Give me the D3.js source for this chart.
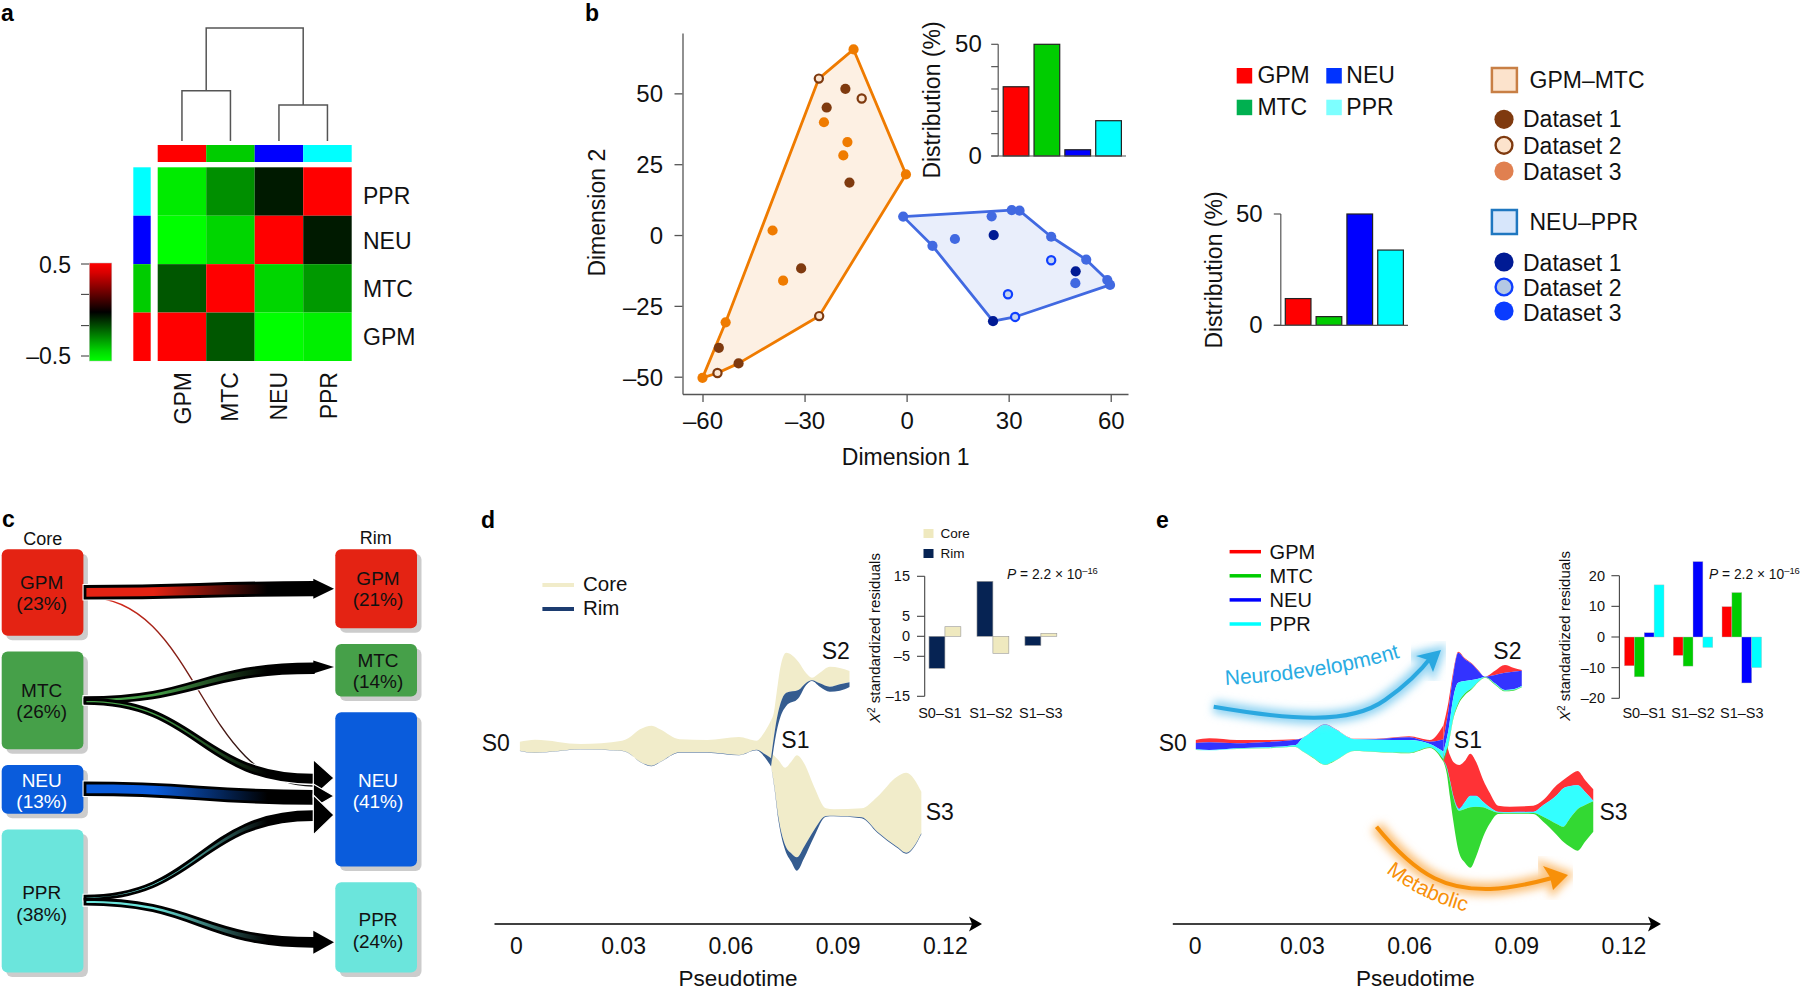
<!DOCTYPE html>
<html><head><meta charset="utf-8">
<script src="https://cdnjs.cloudflare.com/ajax/libs/d3/7.8.5/d3.min.js"></script>
<style>html,body{margin:0;padding:0;background:#fff}svg{display:block}text{font-family:"Liberation Sans",Arial,sans-serif;fill:#111}</style>
</head><body>
<script>
// ---------- categories ----------
const subtypes = ["GPM","MTC","NEU","PPR"];
const rowOrder = ["PPR","NEU","MTC","GPM"];
// ---------- panel a ----------
const corrPPR = [-0.46,-0.28,-0.05,0.5];
const corrNEU = [-0.5,-0.42,0.5,-0.05];
const corrMTC = [-0.17,0.5,-0.42,-0.3];
const corrGPM = [0.5,-0.17,-0.5,-0.47];
const keyTicks = [0.5,0.17,-0.17,-0.5];
const dendroMerge = [0.445,0.319,1];
// ---------- panel b ----------
const hullOrangeX = [-15.6,-25.8,-53.2,-60,-55.6,-49.4,-25.7,-0.2];
const hullOrangeY = [65.5,55.2,-30.8,-50.4,-48.7,-45.3,-28.6,21.4];
const hullBlueX = [-1,30.9,33.2,42.5,52.8,59,59.8,31.9,25.4,7.6];
const hullBlueY = [6.5,8.8,8.6,-0.6,-8.7,-15.9,-17.6,-28.9,-30.4,-3.8];
const orangeD1X = [-18,-23.5,-16.8,-31,-55.2,-49.4];
const orangeD1Y = [51.6,45,18.5,-11.8,-39.8,-45.3];
const orangeD2X = [-25.8,-13.2,-25.7,-55.6];
const orangeD2Y = [55.2,48.2,-28.6,-48.7];
const orangeD3X = [-15.6,-24.3,-17.4,-18.6,-39.4,-36.3,-53.2,-60,-0.2];
const orangeD3Y = [65.5,39.8,32.8,28.1,1.6,-16.1,-30.8,-50.4,21.4];
const blueD1X = [25.6,49.7,25.4];
const blueD1Y = [0,-12.8,-30.4];
const blueD2X = [42.5,29.8,31.9];
const blueD2Y = [-8.9,-20.9,-28.9];
const blueD3X = [-1,7.6,14.2,25,30.9,33.2,42.5,52.8,59,59.8,49.6];
const blueD3Y = [6.5,-3.8,-1.4,6.6,8.8,8.6,-0.6,-8.7,-15.9,-17.6,-17];
const distOrange = [31,50,2.8,15.8];
const distBlue = [12,3.9,50,33.8];
// ---------- panel c ----------
const corePct = [23,26,13,38];
const rimPct = [21,14,41,24];
const flowFrom = ["GPM","MTC","MTC","NEU","PPR","PPR"];
const flowTo = ["GPM","MTC","NEU","NEU","NEU","PPR"];
const flowStart = [3.1,1.3,1.1,3.1,0.8,1.3];
const flowEnd = [3.3,2.3,1.9,3.2,2.1,2.1];
const strayFlowPct = 0.25; // GPM to NEU
// ---------- panel d (pseudotime in 10^-3, stream height in arbitrary units) ----------
const dTrunkT = [1,5.3,18,29.6,31.3,34.6,37.9,40.2,45.7,53.4,62.3,67.2,69.5,71.3];
const dTrunkCore = [3.3,5.3,1,4.3,6.7,15.7,19.3,15.7,5.7,5,8,4.3,13.3,25];
const dTrunkRim = [-5.7,-7.7,-4.3,-5.7,-7.7,-16.7,-20.7,-17,-7.3,-7.3,-10,-4.7,-9,-13.3];
const dTrunkEnd = [-6,-8,-4.6,-6,-8,-17,-21.3,-17.3,-7.7,-7.7,-10.3,-5.3,-12.3,-21.7];
const dS2T = [71.3,72,72.8,73.9,75.5,78.9,81.1,82.7,84.9,87.7,90.5,93.2];
const dS2Core = [25,31.7,51.7,78.3,92.3,83.3,71.7,67.3,72.3,78.3,77,74];
const dS2Rim = [-11.7,6.7,25,41.7,52.3,55,62.3,64.7,61.7,58.3,60.7,62.7];
const dS2End = [-21.7,-3.3,13.3,28.3,39,46.7,60,64,58.3,53.3,54.3,58];
const dS3T = [71.3,72.2,73.3,75.2,76.9,78.5,80.5,83.3,86.6,88.8,96.6,101,106.5,109.1,113.3];
const dS3Core = [-8.3,-11,-15,-22.7,-16.7,-10.3,-18.3,-41.7,-63.3,-64.3,-63.3,-51.7,-31.7,-27.7,-46.7];
const dS3Rim = [-21.7,-41.7,-71.7,-100,-108.3,-112.3,-101.7,-85,-71,-70.7,-72.3,-86.7,-101.7,-107.7,-88.3];
const dS3End = [-21.7,-43.3,-75,-105,-116.7,-125.7,-113.3,-91.7,-71.7,-71.3,-73.3,-87.7,-102.7,-108.7,-89.3];
const residualCats = ["S0–S1","S1–S2","S1–S3"];
const dResidualRim = [-8,13.75,-2.3];
const dResidualCore = [2.4,-4.25,0.75];
const dResidualTicks = [15,5,0,-5,-15];
// ---------- panel e ----------
const eTrunkT = [0.2,4,11.7,19.9,28.1,29.9,32.9,36.4,38.7,44.6,50.5,59.9,65.7,69.5];
const eTrunkGPM = [5,6.7,5,5,5.7,7,14,21,17.3,6.3,6.3,8.7,5,20];
const eTrunkNEU = [2,2.7,1.7,3,5.3,6.7,13.7,20.7,17,6,6,7.7,3.3,5.7];
const eTrunkPPR = [-4.3,-5,-3.3,-2.3,0,6.3,13.3,20.3,16.7,5.7,5.3,5,1,-6.7];
const eTrunkMTC = [-4.7,-5.3,-3.7,-3,-1.7,-5.7,-12.3,-19.7,-16.3,-5.7,-6.7,-7.7,-2.3,-14.3];
const eTrunkEnd = [-5,-5.3,-4,-3.3,-2,-6,-12.7,-20,-16.7,-6,-7,-8.3,-3,-16.7];
const eS2T = [69.5,70.9,72.3,73.6,75.5,77.4,79.2,81.1,83.9,86.7,89,91.4];
const eS2GPM = [20,43.3,75,93.3,86.7,81.7,75,68.3,74.3,80,77.3,75];
const eS2NEU = [5.7,35,71.7,92.3,85.7,81,74.3,68.3,70,72.3,73.3,74.3];
const eS2PPR = [-6.7,15,48.3,62.3,64,65,66.3,68,61.7,55,55.7,59];
const eS2MTC = [-14.3,1.7,28.3,41.7,51.7,56.7,63.3,67.7,61,54.3,55,58.3];
const eS2End = [-16.7,0,26.7,40,50,55.7,62.7,67.3,60.3,53.7,54.3,57.7];
const eS3T = [69.5,70.4,71.3,72.2,73.9,75.5,77,78.6,80.6,82.5,84.8,88.1,94.6,97.4,101.2,103,104.9,107,109.1,111.4];
const eS3GPM = [-8.3,-1.7,-10,-16.7,-20,-15.7,-8.7,-16.7,-35,-48.3,-60.7,-61.7,-60.7,-55,-40,-35,-30,-26,-35,-44.3];
const eS3NEU = [-15.7,-21.7,-35,-50,-63.3,-56.7,-50.7,-50.7,-56.7,-62.3,-66.7,-67,-66.7,-60,-50,-43.3,-41,-40,-46.7,-55.7];
const eS3PPR = [-15.9,-22.7,-36,-51,-64,-57.2,-51,-51,-57,-62.6,-67,-67.3,-67,-60.2,-50.2,-43.5,-41.2,-40.2,-46.9,-55.9];
const eS3MTC = [-15.7,-23.3,-36.7,-51.7,-65.7,-64,-62.3,-61.7,-62.3,-65,-67.7,-68,-68,-71.7,-79,-81.7,-73.3,-64.3,-60,-56.3];
const eS3End = [-16.7,-28.3,-51.7,-75,-108.3,-117.7,-122.7,-111.7,-91.7,-78.3,-69,-68.7,-69,-76.7,-90,-96.7,-101.7,-105.7,-96.7,-86.7];
const eResidualGPM = [-9.4,-6,9.9];
const eResidualMTC = [-13,-9.5,14.5];
const eResidualNEU = [1.4,24.6,-15];
const eResidualPPR = [17,-3.4,-10];
const eResidualTicks = [20,10,0,-10,-20];
const pseudotimeTicks = [0,0.03,0.06,0.09,0.12];
const pseudotimeLabels = ["0","0.03","0.06","0.09","0.12"];

// ---------- set-up ----------
const svg = d3.select("body").append("svg").attr("width",1800).attr("height",991).attr("viewBox","0 0 1800 991");
svg.append("rect").attr("width",1800).attr("height",991).attr("fill","#fff");
const defs = svg.append("defs");
const hex = {GPM:"#ff0000",MTC:"#00cc00",NEU:"#0000ff",PPR:"#00ffff"};
function T(g,x,y,s,o={}){
  const t=g.append("text").attr("x",x).attr("y",y).attr("font-size",o.size||22).attr("text-anchor",o.anchor||"start").text(s);
  if(o.rotate!==undefined) t.attr("transform",`rotate(${o.rotate},${x},${y})`);
  if(o.fill) t.style("fill",o.fill);
  if(o.weight) t.attr("font-weight",o.weight);
  return t;
}
const fmtMinus = d=>String(d).replace("-","–");
[["a",1,21],["b",585,21],["c",2,527],["d",481,528],["e",1156,528]].forEach(d=>T(svg,d[1],d[2],d[0],{size:23,weight:"bold",fill:"#000"}));

// ---------- panel a ----------
(function(){
  const g=svg.append("g");
  const x=d3.scaleBand().domain(subtypes).range([157.7,351.7]);
  const y=d3.scaleBand().domain(rowOrder).range([167.3,361]);
  const col=d3.scaleLinear().domain([-0.5,0,0.5]).range(["#00ff00","#000000","#ff0000"]);
  const rows={PPR:corrPPR,NEU:corrNEU,MTC:corrMTC,GPM:corrGPM};
  rowOrder.forEach(r=>subtypes.forEach((c,i)=>g.append("rect").attr("x",x(c)).attr("y",y(r)).attr("width",x.bandwidth()).attr("height",y.bandwidth()).attr("fill",col(rows[r][i]))));
  subtypes.forEach(c=>g.append("rect").attr("x",x(c)).attr("y",145).attr("width",x.bandwidth()).attr("height",17).attr("fill",hex[c]));
  rowOrder.forEach(r=>g.append("rect").attr("x",133.3).attr("y",y(r)).attr("width",17.4).attr("height",y.bandwidth()).attr("fill",hex[r]));
  const rowNudge={PPR:12.5,NEU:9,MTC:8.5,GPM:8.5};
  rowOrder.forEach(r=>T(g,363,y(r)+y.bandwidth()/2+rowNudge[r],r,{size:23}));
  const colNudge={GPM:9,MTC:7.5,NEU:8.5,PPR:9.5};
  subtypes.forEach(c=>T(g,x(c)+x.bandwidth()/2+colNudge[c],372,c,{size:23,anchor:"end",rotate:-90}));
  // dendrogram
  const h=d3.scaleLinear().domain([0,1]).range([141,28]);
  const lx=c=>x(c)+x.bandwidth()/2;
  const den=g.append("g").attr("fill","none").attr("stroke","#555").attr("stroke-width",1.5);
  const lm=(lx("GPM")+lx("MTC"))/2, rm=(lx("NEU")+lx("PPR"))/2;
  den.append("path").attr("d",`M${lx("GPM")},${h(0)}V${h(dendroMerge[0])}H${lx("MTC")}V${h(0)}`);
  den.append("path").attr("d",`M${lx("NEU")},${h(0)}V${h(dendroMerge[1])}H${lx("PPR")}V${h(0)}`);
  den.append("path").attr("d",`M${lm},${h(dendroMerge[0])}V${h(dendroMerge[2])}H${rm}V${h(dendroMerge[1])}`);
  // colour key
  const ky=d3.scaleLinear().domain([-0.5,0.5]).range([356,264]);
  const grad=defs.append("linearGradient").attr("id","key").attr("x1",0).attr("x2",0).attr("y1",1).attr("y2",0);
  d3.range(0,1.001,0.1).forEach(p=>grad.append("stop").attr("offset",p).attr("stop-color",col(-0.53+p*1.06)));
  g.append("rect").attr("x",89.3).attr("y",263).attr("width",22.5).attr("height",98).attr("fill","url(#key)").attr("stroke","#bbb").attr("stroke-width",0.5);
  keyTicks.forEach(t=>g.append("line").attr("x1",81).attr("x2",89).attr("y1",ky(t)).attr("y2",ky(t)).attr("stroke","#333").attr("stroke-width",1));
  T(g,71,273,"0.5",{size:23,anchor:"end"});
  T(g,71,364,"–0.5",{size:23,anchor:"end"});
})();

// ---------- panel b ----------
(function(){
  const g=svg.append("g");
  const x=d3.scaleLinear().domain([-65.88,65.08]).range([682.5,1128]);
  const y=d3.scaleLinear().domain([-56.1,71.3]).range([394,33]);
  const line=d3.line().x(d=>x(d[0])).y(d=>y(d[1])).curve(d3.curveLinearClosed);
  const hull=(xs,ys,stroke,fill)=>g.append("path").attr("d",line(d3.zip(xs,ys))).attr("fill",fill).attr("stroke",stroke).attr("stroke-width",2.8).attr("stroke-linejoin","round");
  hull(hullOrangeX,hullOrangeY,"#ef7b00","#fdf0e3");
  hull(hullBlueX,hullBlueY,"#4169e1","#e9eefb");
  const dots=(xs,ys,fill,stroke)=>d3.zip(xs,ys).forEach(d=>{
    const c=g.append("circle").attr("cx",x(d[0])).attr("cy",y(d[1]));
    if(stroke) c.attr("r",4.1).attr("fill",fill).attr("stroke",stroke).attr("stroke-width",2.2);
    else c.attr("r",5.1).attr("fill",fill);
  });
  dots(orangeD3X,orangeD3Y,"#ef7b00");
  dots(orangeD1X,orangeD1Y,"#7f3a0f");
  dots(orangeD2X,orangeD2Y,"#fbe6d2","#7f3a0f");
  dots(blueD3X,blueD3Y,"#4169e1");
  dots(blueD1X,blueD1Y,"#001a94");
  dots(blueD2X,blueD2Y,"#c5d3ee","#0f3fff");
  const ax=g.append("g").attr("transform","translate(0,394)").call(d3.axisBottom(x).tickValues([-60,-30,0,30,60]).tickSize(8).tickSizeOuter(0).tickFormat(fmtMinus));
  const ay=g.append("g").attr("transform","translate(682.5,0)").call(d3.axisLeft(y).tickValues([-50,-25,0,25,50]).tickSize(8).tickSizeOuter(0).tickFormat(fmtMinus));
  [ax,ay].forEach(a=>{a.selectAll("path,line").attr("stroke","#555").attr("stroke-width",1.3);a.selectAll("text").attr("font-size",24);a.attr("font-family",null).attr("font-size",null)});
  ax.selectAll("text").attr("dy",null).attr("y",35);
  ay.selectAll("text").attr("dy","0.36em").attr("x",-19.5);
  T(g,905.7,464.7,"Dimension 1",{size:23,anchor:"middle"});
  T(g,605,212.7,"Dimension 2",{size:23,anchor:"middle",rotate:-90});
  const bars=(vals,range,top,base,axX,axEnd,tickList,labelX,titleX,titleY)=>{
    const bx=d3.scaleBand().domain(subtypes).range(range).paddingInner(0.167);
    const by=d3.scaleLinear().domain([0,50]).range([base,top]);
    subtypes.forEach((c,i)=>g.append("rect").attr("x",bx(c)).attr("y",by(vals[i])).attr("width",bx.bandwidth()).attr("height",base-by(vals[i])).attr("fill",hex[c]).attr("stroke","#222").attr("stroke-width",1.2));
    g.append("line").attr("x1",axX).attr("x2",axX).attr("y1",top).attr("y2",base).attr("stroke","#555").attr("stroke-width",1.2);
    g.append("line").attr("x1",axX-7).attr("x2",axEnd).attr("y1",base).attr("y2",base).attr("stroke","#555").attr("stroke-width",1.2);
    tickList.forEach(t=>g.append("line").attr("x1",axX-7).attr("x2",axX).attr("y1",by(t)).attr("y2",by(t)).attr("stroke","#555").attr("stroke-width",1.2));
    T(g,labelX,top+8,"50",{size:24,anchor:"end"});
    T(g,labelX,base+8,"0",{size:24,anchor:"end"});
    T(g,titleX,titleY,"Distribution (%)",{size:23,anchor:"middle",rotate:-90});
  };
  bars(distOrange,[1003.2,1121.4],44.3,156,998.2,1126,[0,10,20,30,40,50],981.8,940,100);
  bars(distBlue,[1285.3,1403.4],214,325.3,1280.8,1408,[0,50],1262.6,1222,270);
  // category legend
  const lc={GPM:"#ff0000",MTC:"#00b050",NEU:"#0033ff",PPR:"#7dffff"};
  [["GPM",1236.7,68],["MTC",1236.7,99.7],["NEU",1326.3,68],["PPR",1326.3,99.7]].forEach(d=>{
    g.append("rect").attr("x",d[1]).attr("y",d[2]).attr("width",15.5).attr("height",15.5).attr("fill",lc[d[0]]);
    T(g,d[1]+(d[1]<1300?20.7:20),d[2]+15,d[0],{size:23});
  });
  // dataset legends
  const L=(sy,name,stroke,fill,c1,ring,c3,cy,by2)=>{
    g.append("rect").attr("x",1491.9).attr("y",sy+1).attr("width",25).attr("height",24).attr("fill",fill).attr("stroke",stroke).attr("stroke-width",2.5);
    T(g,1529.5,sy+21,name,{size:23});
    [[c1],[ring],[c3]].forEach((d,i)=>{
      const c=g.append("circle").attr("cx",1504).attr("cy",cy[i]);
      if(i===1) c.attr("r",8.4).attr("fill",d[0]).attr("stroke",c1==="#7f3a0f"?"#7f3a0f":"#0f3fff").attr("stroke-width",2.4);
      else c.attr("r",9.6).attr("fill",d[0]);
      T(g,1523,by2[i],"Dataset "+(i+1),{size:23});
    });
  };
  L(67,"GPM–MTC","#c87f45","#fce3cc","#7f3a0f","#fce3cc","#e08050",[119.3,145.3,171],[127.3,153.5,179.8]);
  L(209,"NEU–PPR","#1f77c0","#d7e6fb","#001a94","#b4c8e4","#0a3cff",[262,287,311],[270.5,296,321]);
})();

// ---------- panel c ----------
(function(){
  const g=svg.append("g");
  const pct=d3.scaleLinear().domain([0,100]).range([0,376]);
  const gap=15.7, top=549.3;
  const colors={GPM:"#e42313",MTC:"#46a049",NEU:"#0a5cdc",PPR:"#6be5dc"};
  const layout=(vals,x,lab,up,down,nudge)=>{
    let y=top;
    subtypes.forEach((c,i)=>{
      const h=pct(vals[i]);
      g.append("rect").attr("x",x+4.5).attr("y",y+4.5).attr("width",81.7).attr("height",h).attr("rx",6).attr("fill","#cccccc");
      g.append("rect").attr("x",x).attr("y",y).attr("width",81.7).attr("height",h).attr("rx",6).attr("fill",colors[c]);
      const white=c==="NEU", mid=y+h/2+nudge[i];
      T(g,x+lab,mid-up,c,{size:19,anchor:"middle",fill:white?"#fff":"#111"});
      T(g,x+lab,mid+down,`(${vals[i]}%)`,{size:19,anchor:"middle",fill:white?"#fff":"#111"});
      y+=h+gap;
    });
  };
  layout(corePct,1.7,40,4,17.5,[0,0.5,1.5,2.5]);
  layout(rimPct,335.3,42.7,3.5,18,[-0.5,0,0.8,2.3]);
  T(g,42.7,545,"Core",{size:18,anchor:"middle"});
  T(g,375.7,544,"Rim",{size:18,anchor:"middle"});
  const xs=85,xe=313.3,tip=334;
  const wScale=d3.scaleLinear().domain([0,10]).range([0,37.5]);
  const sy=[592.3,700,701.3,788.7,897.7,901.7];
  const ey=[588.7,668.3,778.7,797.3,815.7,942.3];
  const tipY=[588.7,667,778,796,815,942.3];
  const headHalf=[10,6.5,18.5,12,20,11.5];
  const flowEntries=flowFrom.map((f,i)=>{
    const id="flowG"+i;
    const gr=defs.append("linearGradient").attr("id",id).attr("gradientUnits","userSpaceOnUse").attr("x1",xs).attr("x2",xe).attr("y1",0).attr("y2",0);
    gr.append("stop").attr("offset",0.3).attr("stop-color",colors[f]);
    gr.append("stop").attr("offset",0.8).attr("stop-color","#000");
    const w0=wScale(flowStart[i]),w1=wScale(flowEnd[i]),m=(xs+xe)/2;
    const p=d3.path();
    p.moveTo(xs,sy[i]-w0/2);
    p.bezierCurveTo(m,sy[i]-w0/2,m,ey[i]-w1/2,xe,ey[i]-w1/2);
    p.lineTo(xe,ey[i]+w1/2);
    p.bezierCurveTo(m,ey[i]+w1/2,m,sy[i]+w0/2,xs,sy[i]+w0/2);
    p.closePath();
    return {d:p.toString(),id};
  });
  const stray=defs.append("linearGradient").attr("id","flowStray").attr("gradientUnits","userSpaceOnUse").attr("x1",85).attr("x2",265).attr("y1",0).attr("y2",0);
  stray.append("stop").attr("offset",0.2).attr("stop-color","#d0281a");
  stray.append("stop").attr("offset",1).attr("stop-color","#111");
  g.append("path").attr("d",d3.linkHorizontal()({source:[85,597],target:[xe,786]})).attr("fill","none").attr("stroke","url(#flowStray)").attr("stroke-width",wScale(strayFlowPct)+0.5);
  flowEntries.forEach(f=>g.append("path").attr("d",f.d).attr("fill","none").attr("stroke","#fff").attr("stroke-width",5));
  flowEntries.forEach(f=>g.append("path").attr("d",f.d).attr("fill",`url(#${f.id})`).attr("stroke","#000").attr("stroke-width",2.8));
  [0,1,5,2,3,4].forEach(i=>{
    const pts=[[xe,tipY[i]-headHalf[i]],[tip,tipY[i]],[xe,tipY[i]+headHalf[i]]];
    g.append("polygon").attr("points",pts.join(" ")).attr("fill","#000").attr("stroke",(i>=2&&i<=4)?"#fff":"none").attr("stroke-width",1.2);
  });
})();

// ---------- stream helpers ----------
function stream(g,x,y,t,bounds,colors){
  colors.forEach((c,k)=>{
    const a=d3.area().x((d,i)=>x(t[i]/1000)).y0((d,i)=>y(bounds[k+1][i])).y1((d,i)=>y(bounds[k][i])).curve(d3.curveMonotoneX);
    g.append("path").attr("d",a(t)).attr("fill",c);
  });
}
function timeAxis(g,x,x0,x1,labelX){
  g.append("line").attr("x1",x0).attr("x2",x1-8).attr("y1",924).attr("y2",924).attr("stroke","#000").attr("stroke-width",1.6);
  g.append("path").attr("d",`M${x1},924L${x1-13},916.5L${x1-10},924L${x1-13},931.5Z`).attr("fill","#000");
  pseudotimeTicks.forEach((d,i)=>T(g,x(d),954,pseudotimeLabels[i],{size:23,anchor:"middle"}));
  T(g,labelX,985.8,"Pseudotime",{size:22.5,anchor:"middle"});
}
function superText(g,x,y,base,sup,size){
  const t=g.append("text").attr("x",x).attr("y",y).attr("font-size",size);
  t.append("tspan").attr("font-style","italic").text("P");
  t.append("tspan").attr("xml:space","preserve").style("white-space","pre").text(base);
  t.append("tspan").attr("dy",-5).attr("font-size",size*0.68).text(sup);
}
function residualTitle(g,x,y){
  const t=g.append("text").attr("x",x).attr("y",y).attr("font-size",15).attr("text-anchor","middle").attr("transform",`rotate(-90,${x},${y})`);
  t.append("tspan").attr("font-style","italic").text("X");
  t.append("tspan").attr("dy",-5).attr("font-size",10).text("2");
  t.append("tspan").attr("dy",5).style("white-space","pre").text(" standardized residuals");
}
const streamY=d3.scaleLinear().domain([-130,100]).range([875,645]);

// ---------- panel d ----------
(function(){
  const g=svg.append("g");
  const x=d3.scaleLinear().domain([0,0.12]).range([516.3,945.3]);
  const core="#f1ecca", rim="#355c8f";
  stream(g,x,streamY,dTrunkT,[dTrunkCore,dTrunkRim,dTrunkEnd],[core,rim]);
  stream(g,x,streamY,dS3T,[dS3Core,dS3Rim,dS3End],[core,rim]);
  stream(g,x,streamY,dS2T,[dS2Core,dS2Rim,dS2End],[core,rim]);
  timeAxis(g,x,494.5,982,738);
  [["S0",495.7,750.7],["S1",795.4,747.7],["S2",835.8,659],["S3",939.7,820]].forEach(d=>T(g,d[1],d[2],d[0],{size:23,anchor:"middle"}));
  g.append("line").attr("x1",542.4).attr("x2",574).attr("y1",585).attr("y2",585).attr("stroke","#f1ecca").attr("stroke-width",4);
  g.append("line").attr("x1",542.4).attr("x2",574).attr("y1",609).attr("y2",609).attr("stroke","#1c3c70").attr("stroke-width",4);
  T(g,583,590.7,"Core",{size:20.5});
  T(g,583,615,"Rim",{size:20.5});
  // inset
  const iy=d3.scaleLinear().domain([-15,15]).range([696.3,576.3]);
  const band=d3.scaleBand().domain(residualCats).range([929,1056.8]).paddingInner(0.336);
  const inner=d3.scaleBand().domain(["Rim","Core"]).range([0,band.bandwidth()]);
  residualCats.forEach((c,i)=>{
    [["Rim",dResidualRim[i],"#062353"],["Core",dResidualCore[i],"#efe9bf"]].forEach(b=>{
      g.append("rect").attr("x",band(c)+inner(b[0])).attr("y",iy(Math.max(0,b[1]))).attr("width",inner.bandwidth()).attr("height",Math.abs(iy(b[1])-iy(0))).attr("fill",b[2]).attr("stroke","#999").attr("stroke-width",0.6);
    });
    T(g,band(c)+band.bandwidth()/2+(i==0?-5:(i==1?-2:0)),718,c,{size:14.5,anchor:"middle"});
  });
  g.append("line").attr("x1",924.7).attr("x2",924.7).attr("y1",576.3).attr("y2",696.3).attr("stroke","#444").attr("stroke-width",1.1);
  dResidualTicks.forEach(t=>{
    g.append("line").attr("x1",917).attr("x2",924.7).attr("y1",iy(t)).attr("y2",iy(t)).attr("stroke","#444").attr("stroke-width",1.1);
    T(g,910,iy(t)+5,fmtMinus(t),{size:14.5,anchor:"end"});
  });
  residualTitle(g,880,638);
  [["Core",529,"#efe9bf",538.3],["Rim",549,"#062353",558]].forEach(d=>{
    g.append("rect").attr("x",923.5).attr("y",d[1]).attr("width",10).attr("height",9).attr("fill",d[2]);
    T(g,940.5,d[3],d[0],{size:13.5});
  });
  superText(g,1007,579," = 2.2 × 10","–16",13.8);
})();

// ---------- panel e ----------
(function(){
  const g=svg.append("g");
  const x=d3.scaleLinear().domain([0,0.12]).range([1195.1,1624]);
  const c=["#ff3236","#3333ff","#33ffff","#33d933"];
  stream(g,x,streamY,eTrunkT,[eTrunkGPM,eTrunkNEU,eTrunkPPR,eTrunkMTC,eTrunkEnd],c);
  stream(g,x,streamY,eS3T,[eS3GPM,eS3NEU,eS3PPR,eS3MTC,eS3End],c);
  stream(g,x,streamY,eS2T,[eS2GPM,eS2NEU,eS2PPR,eS2MTC,eS2End],c);
  timeAxis(g,x,1172.8,1661,1415.3);
  [["S0",1172.8,750.7],["S1",1467.9,747.7],["S2",1507.4,659],["S3",1613.5,820]].forEach(d=>T(g,d[1],d[2],d[0],{size:23,anchor:"middle"}));
  const lineC=["#ff0000","#00cc00","#0000ff","#00ffff"];
  subtypes.forEach((s,i)=>{
    const yy=551.7+i*24.1;
    g.append("line").attr("x1",1229.6).attr("x2",1261).attr("y1",yy).attr("y2",yy).attr("stroke",lineC[i]).attr("stroke-width",3.5);
    T(g,1269.6,yy+7.4,s,{size:20});
  });
  // glow arrows
  const glow=defs.append("filter").attr("id","glow").attr("x","-20%").attr("y","-40%").attr("width","140%").attr("height","180%");
  glow.append("feGaussianBlur").attr("stdDeviation",4);
  const arrow=(d,head,color,soft)=>{
    g.append("path").attr("d",d).attr("fill","none").attr("stroke",soft).attr("stroke-width",13).attr("filter","url(#glow)");
    g.append("path").attr("d",head).attr("fill",soft).attr("stroke",soft).attr("stroke-width",8).attr("filter","url(#glow)");
    g.append("path").attr("d",d).attr("fill","none").attr("stroke",color).attr("stroke-width",4);
    g.append("path").attr("d",head).attr("fill",color);
  };
  arrow("M1213.7,706.7C1290,720 1350,725 1385,700C1405,686 1420,672 1432,656",
        "M1441,650L1433,672L1428,660L1416,656Z","#2aa8e0","#8fd3f2");
  arrow("M1376.5,826.7C1420,880 1450,890 1490,889C1510,888 1530,884 1552,878",
        "M1568,875L1553,890L1550,877L1543,866Z","#f79009","#fbc077");
  defs.append("path").attr("id","neuroPath").attr("d","M1225,685Q1325,680 1402,657");
  defs.append("path").attr("id","metaPath").attr("d","M1386,872Q1420,900 1468,912");
  g.append("text").attr("font-size",21).style("fill","#29abe2").append("textPath").attr("href","#neuroPath").text("Neurodevelopment");
  g.append("text").attr("font-size",21).style("fill","#f79009").append("textPath").attr("href","#metaPath").text("Metabolic");
  // inset
  const iy=d3.scaleLinear().domain([-20,20]).range([698.3,575.7]);
  const band=d3.scaleBand().domain(residualCats).range([1624.4,1761.6]).paddingInner(0.1885);
  const inner=d3.scaleBand().domain(subtypes).range([0,band.bandwidth()]);
  const vals={GPM:eResidualGPM,MTC:eResidualMTC,NEU:eResidualNEU,PPR:eResidualPPR};
  residualCats.forEach((cat,i)=>{
    subtypes.forEach((s,k)=>g.append("rect").attr("x",band(cat)+inner(s)).attr("y",iy(Math.max(0,vals[s][i]))).attr("width",inner.bandwidth()).attr("height",Math.abs(iy(vals[s][i])-iy(0))).attr("fill",lineC[k]).attr("stroke","#bbb").attr("stroke-width",0.4));
    T(g,band(cat)+band.bandwidth()/2,717.7,cat,{size:14.5,anchor:"middle"});
  });
  g.append("line").attr("x1",1619.4).attr("x2",1619.4).attr("y1",575.7).attr("y2",698.3).attr("stroke","#444").attr("stroke-width",1.1);
  eResidualTicks.forEach(t=>{
    g.append("line").attr("x1",1611.4).attr("x2",1619.4).attr("y1",iy(t)).attr("y2",iy(t)).attr("stroke","#444").attr("stroke-width",1.1);
    T(g,1605,iy(t)+5,fmtMinus(t),{size:14.5,anchor:"end"});
  });
  residualTitle(g,1570,636);
  superText(g,1709,579," = 2.2 × 10","–16",13.8);
})();
</script>
</body></html>
